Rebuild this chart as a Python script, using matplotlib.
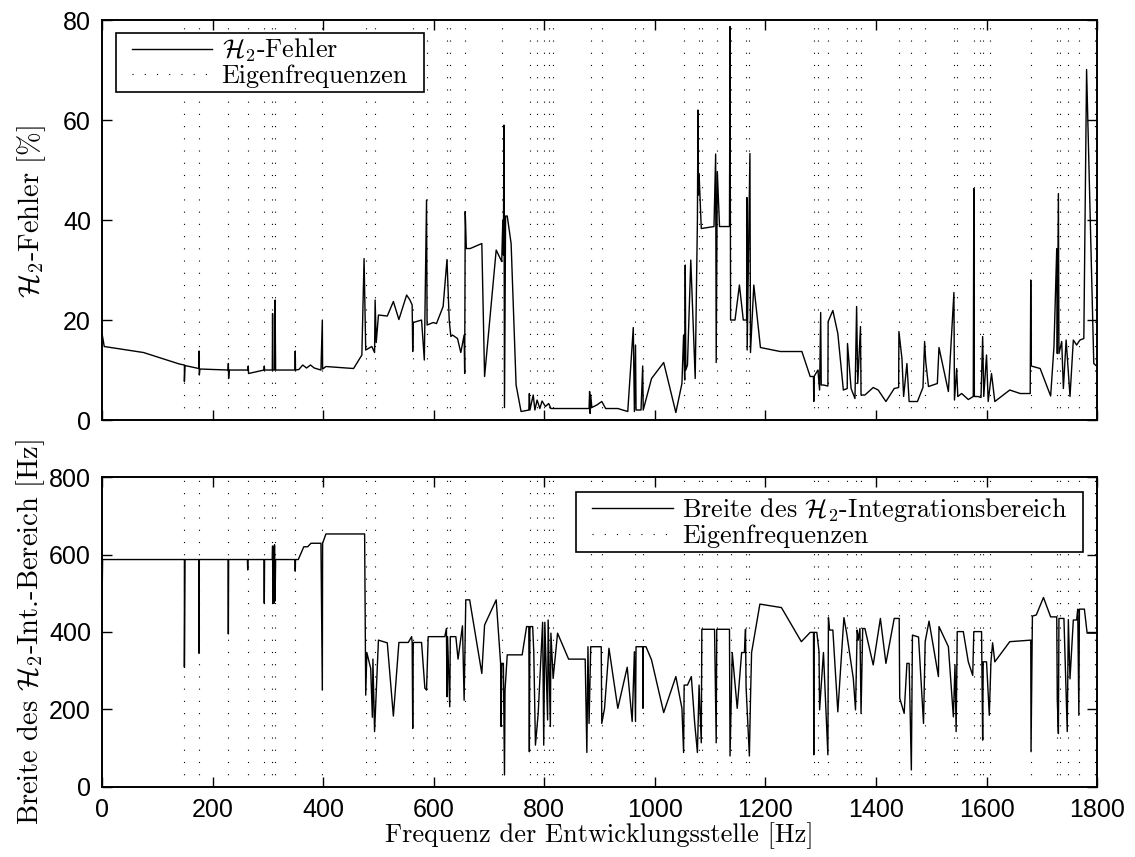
import matplotlib
matplotlib.use("Agg")
import matplotlib.pyplot as plt
from matplotlib.path import Path

# H2-Fehler ueber der Frequenz der Entwicklungsstelle (Hz, %)
err_freq = [
    0, 2, 4, 75, 140, 149, 149, 150, 175, 175.5, 176, 177, 200,
    228, 228.5, 229, 230, 264, 264.5, 265, 293, 293.5, 294,
    308, 308.5, 309, 312, 313, 314, 349, 349.5, 350, 356, 363, 370, 377, 384,
    396, 398.5, 399, 405, 455, 470, 474, 477, 488, 493, 494, 496, 500,
    516, 527, 537, 551, 557, 561, 562, 563, 578, 583, 587, 588, 599, 605,
    617, 624, 628, 631, 634, 643, 649, 655, 656, 657, 659, 666, 687, 692,
    713, 723, 725, 726, 727, 728, 730, 733, 740, 749, 758, 772, 773, 774,
    780, 783, 787, 792, 796, 802, 808, 812, 881, 882, 883, 884, 886, 895,
    904, 911, 933, 951, 961, 963, 965, 966, 975, 978, 979, 994, 1016, 1038,
    1049, 1052, 1054, 1055, 1056, 1059, 1065, 1073, 1077, 1078, 1079, 1080,
    1084, 1107, 1110, 1111, 1113, 1117, 1135, 1136, 1137, 1145, 1153, 1160,
    1166, 1166.5, 1167, 1172, 1173, 1179, 1191, 1227, 1266, 1281, 1287,
    1287.5, 1288, 1295, 1298, 1300, 1301, 1305, 1313, 1313.5, 1322, 1331,
    1341, 1348, 1348.5, 1355, 1362, 1365, 1367, 1372, 1373, 1380, 1395,
    1404, 1418, 1433, 1441, 1441.5, 1447, 1450, 1456, 1460, 1464, 1475,
    1485, 1488, 1490, 1495, 1511, 1514, 1531, 1541, 1542, 1546, 1548, 1555,
    1567, 1576, 1577, 1578, 1585, 1590, 1593, 1595, 1600, 1603, 1609, 1615,
    1642, 1661, 1679, 1680, 1681, 1697, 1716, 1722, 1727, 1728, 1730, 1731,
    1736, 1739, 1744, 1751, 1757, 1763, 1769, 1776, 1781, 1794, 1800,
]
err_val = [
    17.3, 16, 14.7, 13.5, 11.2, 11, 7.7, 10.9, 10.3, 13.8, 9, 10.2, 10.1,
    10, 11.3, 8.3, 10, 10, 10.8, 9.3, 10, 10.8, 10,
    10, 21.3, 10, 10, 24, 10, 10, 13.8, 10, 10.1, 11, 10.4, 11, 10.4,
    10, 20, 10.2, 10.7, 10.3, 13, 32.3, 14, 14.7, 13.5, 24, 15.5, 21,
    20.8, 23.7, 20.1, 25, 24, 23, 13.7, 19.5, 20, 12, 44, 19, 19.5, 19.3,
    22.7, 32.1, 20, 16.7, 17, 16.3, 13.5, 17, 9.3, 41.7, 34.3, 34.3, 35.3, 8.7,
    34, 31.7, 40, 33, 59, 2.5, 40.8, 40.8, 35.3, 7, 1.7, 2, 5.3, 2,
    5, 2, 4, 2.3, 3.8, 2.7, 3.3, 2.3, 2.3, 5.7, 1.3, 5, 2.5, 3,
    3.7, 2.3, 2.3, 1.7, 18.5, 1.7, 15, 2, 2, 10.8, 2, 8.3, 11.5, 1.5,
    7.3, 17, 8, 31, 10, 11, 32, 8.3, 40, 62, 45, 49.3,
    38.3, 38.7, 53.2, 11.5, 49.7, 38.7, 38.7, 78.7, 20, 20, 27, 20,
    20, 44.5, 14, 53.3, 13.5, 27, 14.5, 13.7, 13.7, 8.7, 8.7,
    3.7, 8.7, 10, 6, 21.5, 7, 7, 6.8, 19.7, 21.9, 17.3,
    6, 6.3, 15.3, 6.3, 4.3, 22.7, 7.3, 18.7, 5, 5, 6.5,
    6, 3.7, 6.3, 6.5, 17.7, 12.3, 4.7, 11.3, 3.7, 3.7, 3.7,
    6.5, 15.7, 11.7, 6.7, 7.3, 14.5, 5.7, 25.5, 4, 10.3, 4.7, 5.3,
    4.1, 4.7, 46.3, 4.7, 4.7, 4.5, 16.7, 4.7, 13, 3.7, 9.3, 3.7,
    6, 5.3, 5.3, 28, 10.8, 10.3, 4.8, 14.7, 34.3, 13.3, 45.3, 13.3,
    15.7, 6.3, 16, 4.7, 16, 15, 16, 16.3, 70.1, 11.3, 10.7,
]

# Breite des Integrationsbereichs (Hz)
bw_freq = [
    0, 1, 149, 149, 150, 175, 175.5, 176, 228, 228.5, 229, 263, 263.5, 264,
    293, 293.5, 294, 308, 308.5, 309, 310, 311, 312, 313, 314, 349, 349.5, 350,
    355, 365, 372, 378, 396, 398.5, 399, 405, 475, 477, 479, 486, 489, 490,
    493, 500, 516, 527, 537, 554, 560, 561, 562, 563, 578, 584, 587, 590,
    620, 623, 624, 625, 629, 630, 640, 644, 652, 655, 658, 665, 687, 692,
    713, 721, 722, 723, 726, 728, 729, 733, 760, 768, 772, 773, 774, 779,
    781, 784, 789, 797, 799, 801, 806, 807, 811, 812, 816, 824, 844, 874,
    877, 879, 881, 884, 903, 904, 909, 917, 933, 950, 959, 963, 965, 966,
    978, 978.5, 979, 984, 994, 1016, 1038, 1049, 1052, 1053, 1059, 1066,
    1072, 1077, 1080, 1084, 1085, 1108, 1111, 1112, 1117, 1135, 1136, 1140,
    1149, 1157, 1162, 1164, 1165, 1171, 1173, 1175, 1190, 1229, 1265, 1281,
    1287, 1287.5, 1288, 1293, 1297, 1298, 1305, 1313, 1314, 1316, 1322,
    1331, 1342, 1347, 1359, 1363, 1366, 1368, 1371, 1373, 1376, 1380, 1395,
    1408, 1418, 1433, 1442, 1443, 1451, 1456, 1460, 1464, 1466, 1477, 1486,
    1489, 1496, 1513, 1514, 1531, 1540, 1543, 1545, 1547, 1558, 1567, 1575,
    1577, 1591, 1593, 1594, 1600, 1605, 1608, 1611, 1615, 1642, 1680,
    1680.5, 1683, 1690, 1703, 1716, 1727, 1728, 1730, 1731, 1740, 1746,
    1748, 1751, 1757, 1763, 1765, 1767, 1768, 1777, 1782, 1800,
]
bw_val = [
    470, 587, 587, 309, 587, 587, 345, 587, 587, 395, 587, 587, 560, 587,
    587, 474, 587, 587, 622, 474, 620, 474, 625, 480, 587, 587, 557, 587,
    587, 620, 620, 629, 629, 250, 629, 653, 653, 237, 347, 306, 180, 330,
    143, 379, 372, 183, 373, 373, 388, 373, 151, 373, 373, 255, 250, 388,
    388, 409, 233, 388, 207, 388, 388, 330, 416, 224, 483, 483, 293, 418,
    483, 319, 156, 319, 319, 31, 250, 341, 341, 414, 414, 91, 414, 414,
    349, 108, 190, 425, 108, 425, 173, 431, 156, 397, 280, 397, 330, 330,
    89, 362, 164, 362, 362, 164, 203, 358, 203, 309, 169, 349, 169, 362,
    362, 203, 362, 362, 328, 192, 285, 203, 89, 263, 263, 285,
    166, 89, 263, 114, 407, 407, 114, 407, 407, 407, 80, 347,
    203, 347, 347, 407, 259, 80, 226, 347, 472, 463, 375, 399,
    399, 83, 399, 399, 349, 199, 347, 83, 437, 405, 405,
    194, 437, 397, 280, 199, 405, 379, 409, 190, 409, 409, 315,
    435, 319, 435, 435, 229, 190, 319, 319, 44, 392, 387, 164,
    375, 428, 285, 414, 362, 181, 315, 143, 401, 401, 323, 288,
    401, 401, 121, 323, 323, 185, 323, 372, 323, 375, 379,
    91, 441, 444, 489, 439, 439, 225, 138, 435, 435, 143,
    432, 279, 431, 431, 459, 185, 459, 459, 397, 397,
]

# Eigenfrequenzen (Hz)
eigen_freq = [
    149, 175.5, 228.5, 264.5, 293, 308, 313, 349, 398.5, 477, 494, 563, 587,
    623.5, 629.5, 656.5, 724, 774, 786, 799.5, 808.5, 815, 884, 904, 965,
    978, 1053, 1079, 1086, 1112, 1138, 1164, 1171, 1287, 1295, 1314, 1348,
    1364, 1373, 1441, 1464, 1488, 1542, 1546, 1577, 1588, 1593, 1606, 1680,
    1727, 1732, 1747, 1767, 1797,
]

assert len(err_freq) == len(err_val)
assert len(bw_freq) == len(bw_val)

plt.rcParams['font.family'] = ['Liberation Sans', 'DejaVu Sans']
plt.rcParams['mathtext.fontset'] = 'cm'
plt.rcParams['font.size'] = 18

ylabel_font = {'family': 'cmr10', 'size': 20.5}
xlabel_font = {'family': 'cmr10', 'size': 19}
legend_font = {'family': 'cmr10', 'size': 18.8}
dot_style = (0, (1, 10))


def wide_box(x0, y0, width, height, mutation_size):
    # Rahmen links/rechts etwas weiter als oben/unten
    dx = 0.45 * mutation_size
    return Path([(x0 - dx, y0), (x0 + width + dx, y0),
                 (x0 + width + dx, y0 + height), (x0 - dx, y0 + height),
                 (x0 - dx, y0)], closed=True)


fig = plt.figure(figsize=(11.35, 8.57), dpi=100)
ax1 = fig.add_axes([0.0899, 0.5099, 0.8767, 0.4667])
ax2 = fig.add_axes([0.0899, 0.0817, 0.8767, 0.3617])


def style_axes(ax):
    ax.set_xlim(0, 1800)
    ax.set_xticks(range(0, 1801, 200))
    ax.tick_params(direction='in', top=True, right=True, length=7, width=1,
                   labelsize=18, pad=8)
    for sp in ax.spines.values():
        sp.set_linewidth(1.4)


def draw_eigen(ax):
    for i, f in enumerate(eigen_freq):
        ax.axvline(f, color='k', lw=0.8, ls=dot_style,
                   label='Eigenfrequenzen' if i == 0 else None)


def make_legend(ax, loc, anchor):
    leg = ax.legend(loc=loc, bbox_to_anchor=anchor, prop=legend_font,
                    fancybox=False, framealpha=1, edgecolor='k',
                    handlelength=3.1, handletextpad=0.35, borderaxespad=0,
                    labelspacing=0.0, borderpad=0.15)
    leg.get_frame().set_linewidth(1.2)
    leg.get_frame().set_boxstyle(wide_box)
    return leg


# oben: H2-Fehler
ax1.plot(err_freq, err_val, color='k', lw=1.0, label=r'$\mathcal{H}_2$-Fehler')
draw_eigen(ax1)
style_axes(ax1)
ax1.set_ylim(0, 80)
ax1.set_yticks(range(0, 81, 20))
ax1.set_xticklabels([])
ax1.set_ylabel(r'$\mathcal{H}_2$-Fehler [%]', fontdict=ylabel_font)
ax1.yaxis.set_label_coords(-0.054, 0.52)
make_legend(ax1, 'upper left', (0.0257, 0.9675))

# unten: Breite des Integrationsbereichs
ax2.plot(bw_freq, bw_val, color='k', lw=1.0,
         label=r'Breite des $\mathcal{H}_2$-Integrationsbereich')
draw_eigen(ax2)
style_axes(ax2)
ax2.set_ylim(0, 800)
ax2.set_yticks(range(0, 801, 200))
ax2.set_ylabel(r'Breite des $\mathcal{H}_2$-Int.-Bereich [Hz]', fontdict=ylabel_font)
ax2.yaxis.set_label_coords(-0.055, 0.5)
ax2.set_xlabel('Frequenz der Entwicklungsstelle [Hz]', fontdict=xlabel_font, labelpad=0)
make_legend(ax2, 'upper right', (0.9743, 0.9516))

fig.savefig('out.png', dpi=100)
